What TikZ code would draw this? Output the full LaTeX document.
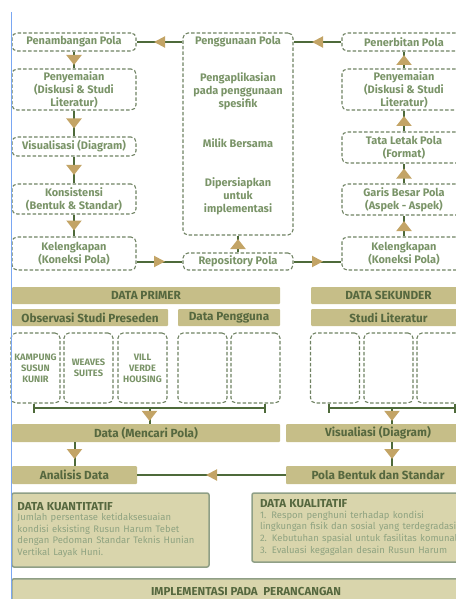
\documentclass[tikz,border=0pt]{standalone}
\usepackage{fontspec}
\setmainfont{Fira Sans}
\usetikzlibrary{arrows.meta,decorations.markings}
\definecolor{dashc}{HTML}{6F8262}
\definecolor{txtg}{HTML}{7A9468}
\definecolor{barc}{HTML}{C6BE88}
\definecolor{bart}{HTML}{56683F}
\definecolor{linec}{HTML}{4E6A3A}
\definecolor{tipc}{HTML}{C3A466}
\definecolor{infofill}{HTML}{D9D5AC}
\definecolor{infodraw}{HTML}{8F9F86}
\definecolor{bodyc}{HTML}{8FA381}
\definecolor{pageline}{HTML}{7AA7F2}
\newcommand\boxfont{\bfseries\fontsize{11}{13}\selectfont}
\newcommand\smallboxfont{\bfseries\fontsize{9.3}{11}\selectfont}
\newcommand\barfont{\bfseries\fontsize{11.8}{13}\selectfont}
\newcommand\infotitlefont{\bfseries\fontsize{11.6}{13}\selectfont}
\newcommand\infobodyfont{\fontsize{9.5}{11.5}\selectfont}
\tikzset{
  dbox/.style={draw=dashc,dash pattern=on 3.5bp off 2bp,line width=1.1bp,rounded corners=5bp,
    text=txtg,font=\boxfont,align=center,inner sep=0pt},
  boxtext/.style={text=txtg,font=\boxfont,align=center,inner sep=0pt},
  smallbox/.style={dbox,font=\smallboxfont,minimum width=49bp,minimum height=70bp},
  bar/.style={fill=barc,text=bart,font=\barfont,inner sep=0pt,rounded corners=1bp},
  infobox/.style={fill=infofill,draw=infodraw,line width=1.5bp,rounded corners=2bp,inner sep=0pt,align=left},
  link/.style={draw=linec,line width=2bp},
  tipV/.style={postaction={decorate,decoration={markings,
    mark=at position 0.5 with {\arrow[tipc,xshift=5bp]{Triangle[width=15bp,length=10bp]}}}}},
  tipH/.style={postaction={decorate,decoration={markings,
    mark=at position 0.5 with {\arrow[tipc,xshift=5.5bp]{Triangle[width=11bp,length=11bp]}}}}},
}
\begin{document}
\begin{tikzpicture}[x=1bp,y=-1bp,>=latex,line join=bevel]
\useasboundingbox (0,0) rectangle (456,599);
\clip (0,0) rectangle (456,599);
%% alur atas
\node (penambangan) at (74,42) [dbox,minimum width=124bp,minimum height=18bp] {Penambangan Pola};
\node (penyemaianL) at (74,89.5) [dbox,minimum width=124bp,minimum height=41bp] {Penyemaian\\(Diskusi \& Studi\\Literatur)};
\node (visualisasi) at (74,146.5) [dbox,minimum width=124bp,minimum height=19bp] {Visualisasi (Diagram)};
\node (konsistensi) at (74,199) [dbox,minimum width=124bp,minimum height=30bp] {Konsistensi\\(Bentuk \& Standar)};
\node (kelengkapanL) at (74,253.5) [dbox,minimum width=124bp,minimum height=33bp] {Kelengkapan\\(Koneksi Pola)};
\node (penggunaan) at (238,134) [dbox,minimum width=110bp,minimum height=202bp] {};
\node (penggunaanTitle) at (238,42) [boxtext] {Penggunaan Pola};
\node (aplikasi) at (238,91) [boxtext] {Pengaplikasian\\pada penggunaan\\spesifik};
\node (milik) at (238,143) [boxtext] {Milik Bersama};
\node (persiapan) at (238,196) [boxtext] {Dipersiapkan\\untuk\\implementasi};
\node (repository) at (238,261.5) [dbox,minimum width=110bp,minimum height=17bp] {Repository Pola};
\node (penerbitan) at (404,42) [dbox,minimum width=124bp,minimum height=18bp] {Penerbitan Pola};
\node (penyemaianR) at (404,89.5) [dbox,minimum width=124bp,minimum height=41bp] {Penyemaian\\(Diskusi \& Studi\\Literatur)};
\node (tataletak) at (404,147.5) [dbox,minimum width=124bp,minimum height=31bp] {Tata Letak Pola\\(Format)};
\node (garisbesar) at (404,199.5) [dbox,minimum width=124bp,minimum height=31bp] {Garis Besar Pola\\(Aspek - Aspek)};
\node (kelengkapanR) at (404,253.5) [dbox,minimum width=124bp,minimum height=33bp] {Kelengkapan\\(Koneksi Pola)};
%
\draw [link,tipV] (penambangan) -- (penyemaianL);
\draw [link,tipV] (penyemaianL) -- (visualisasi);
\draw [link,tipV] (visualisasi) -- (konsistensi);
\draw [link,tipV] (konsistensi) -- (kelengkapanL);
\draw [link,tipH] (kelengkapanL.east |- repository) -- (repository);
\draw [link,tipH] (repository) -- (kelengkapanR.west |- repository);
\draw [link,tipV] (repository) -- (penggunaan.south);
\draw [link,tipV] (kelengkapanR) -- (garisbesar);
\draw [link,tipV] (garisbesar) -- (tataletak);
\draw [link,tipV] (tataletak) -- (penyemaianR);
\draw [link,tipV] (penyemaianR) -- (penerbitan);
\draw [link,tipH] (penerbitan) -- (penggunaan.east |- penggunaanTitle);
\draw [link,tipH] (penggunaan.west |- penggunaanTitle) -- (penambangan);
%% data
\node (primer) at (146,295.5) [bar,minimum width=268bp,minimum height=17bp] {DATA PRIMER};
\node (sekunder) at (388.5,295.5) [bar,minimum width=155bp,minimum height=17bp] {DATA SEKUNDER};
\node (preseden) at (90,317.5) [bar,minimum width=156bp,minimum height=17bp] {Observasi Studi Preseden};
\node (pengguna) at (229,317.5) [bar,minimum width=102bp,minimum height=17bp] {Data Pengguna};
\node (literatur) at (388.5,317.5) [bar,minimum width=155bp,minimum height=17bp] {Studi Literatur};
\node (kampung) at (35.5,368) [smallbox] {KAMPUNG\\SUSUN\\KUNIR};
\node (weaves) at (88.5,368) [smallbox] {WEAVES\\SUITES};
\node (vill) at (142.5,368) [smallbox] {VILL\\VERDE\\HOUSING};
\node (penggunaA) at (202.5,368) [smallbox] {};
\node (penggunaB) at (255.5,368) [smallbox] {};
\node (literaturA) at (335,368) [smallbox] {};
\node (literaturB) at (388.5,368) [smallbox] {};
\node (literaturC) at (441.5,368) [smallbox] {};
\coordinate (brkLa) at (34,408);
\coordinate (brkLb) at (265,408);
\coordinate (brkL) at (149.5,408);
\coordinate (brkRa) at (329,408);
\coordinate (brkRb) at (455,408);
\coordinate (brkR) at (392,408);
\draw [link] (brkLa) -- (brkLb);
\draw [link] (brkRa) -- (brkRb);
\draw [link] (34,403.5) -- (34,412.5);
\draw [link] (265,403.5) -- (265,412.5);
\draw [link] (329,403.5) -- (329,412.5);
\draw [link] (455,403.5) -- (455,412.5);
\node (mencari) at (146,433) [bar,minimum width=268bp,minimum height=18bp] {Data (Mencari Pola)};
\node (visualiasi) at (378,433) [bar,minimum width=184bp,minimum height=18bp] {Visualiasi (Diagram)};
\node (analisis) at (74.5,475) [bar,minimum width=125bp,minimum height=18bp] {Analisis Data};
\node (polabentuk) at (378,475) [bar,minimum width=184bp,minimum height=18bp] {Pola Bentuk dan Standar};
\draw [link,tipV] (brkL) -- (brkL |- mencari.north);
\draw [link,tipV] (brkR) -- (brkR |- visualiasi.north);
\draw [link,tipV] (mencari.south -| analisis) -- (analisis);
\draw [link,tipV] (brkR |- visualiasi.south) -- (brkR |- polabentuk.north);
\draw [link,tipH] (polabentuk) -- (analisis);
%% hasil
\node (kuantitatif) at (110.5,530) [infobox,minimum width=197bp,minimum height=74bp,text width=186bp] {%
  {\infotitlefont\color{bart}DATA KUANTITATIF}\\[-1bp]
  \infobodyfont\color{bodyc}%
  \makebox[\linewidth][s]{Jumlah persentase ketidaksesuaian}\\
  \makebox[\linewidth][s]{kondisi eksisting Rusun Harum Tebet}\\
  \makebox[\linewidth][s]{dengan Pedoman Standar Teknis Hunian}\\
  Vertikal Layak Huni.};
\node (kualitatif) at (360,527.5) [infobox,minimum width=216bp,minimum height=69bp,text width=200bp] {%
  {\infotitlefont\color{bart}DATA KUALITATIF}\\[-1bp]
  \infobodyfont\color{bodyc}%
  \makebox[\linewidth][s]{1. Respon penghuni terhadap kondisi}\\
  lingkungan fisik dan sosial yang terdegradasi\\
  2. Kebutuhan spasial untuk fasilitas komunal\\
  \makebox[\linewidth][s]{3. Evaluasi kegagalan desain Rusun Harum}};
\node (implementasi) at (246,578) [infobox,anchor=north,minimum width=468bp,minimum height=30bp] {};
\node (implementasiTitle) at (246,591.5) [font=\infotitlefont,text=bart,inner sep=0pt] {IMPLEMENTASI PADA\ \ PERANCANGAN};
%
\draw [pageline,line width=1bp] (11.5,12) -- (11.5,599);
\end{tikzpicture}
\end{document}
